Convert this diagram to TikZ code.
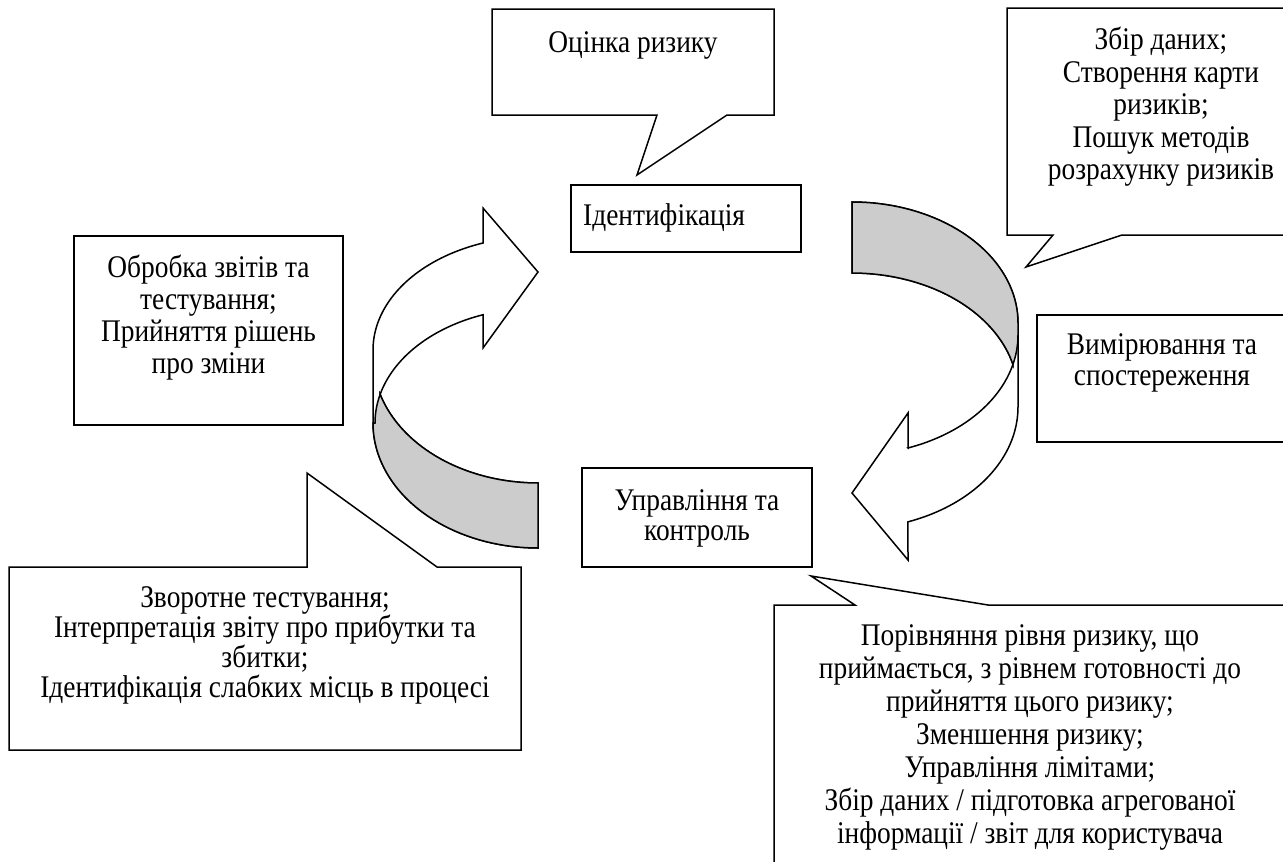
\documentclass[tikz,border=0pt]{standalone}
\usepackage{fontspec}
\setmainfont{Liberation Serif}[FakeStretch=0.87]
\begin{document}
\begin{tikzpicture}[x=1pt,y=-1pt,
  outline/.style={draw=black, line width=1.5pt, line join=miter, fill=white},
  greyband/.style={draw=black, line width=1.5pt, line join=miter, fill=black!20},
  txt/.style={font=\fontsize{31.5}{#1}\selectfont, align=center, inner sep=0pt, text=black},
  txt/.default=32]
\useasboundingbox (0,0) rectangle (1283,862);
\begin{scope}
\clip (0,0) rectangle (1283,862);

% ---------- left curved arrow (up to the right) ----------
\path[outline] (483,243)
  -- plot[domain=250.5:180,samples=40] ({538+165*cos(\x)},{350+113.5*sin(\x)})
  -- (373,423)
  -- plot[domain=180:90,samples=40] ({538+165*cos(\x)},{423+125*sin(\x)})
  -- (538,483)
  -- plot[domain=90:163.1,samples=40] ({538+165*cos(\x)},{358+125*sin(\x)})
  -- plot[domain=194.4:250.3,samples=40] ({538+163*cos(\x)},{423+115*sin(\x)})
  -- (483,348) -- (538,272) -- (483,208) -- cycle;
\path[greyband] (538,483) -- (538,548)
  -- plot[domain=90:180,samples=40] ({538+165*cos(\x)},{423+125*sin(\x)})
  -- plot[domain=180:194.4,samples=10] ({538+163*cos(\x)},{423+115*sin(\x)})
  -- plot[domain=163.1:90,samples=40] ({538+165*cos(\x)},{358+125*sin(\x)})
  -- cycle;

% ---------- right curved arrow (down to the left) ----------
\path[outline] (852,202)
  -- plot[domain=270:360,samples=40] ({852+166*cos(\x)},{323+121*sin(\x)})
  -- (1018,407)
  -- plot[domain=0:70.3,samples=40] ({852+166*cos(\x)},{407+122*sin(\x)})
  -- (908,560) -- (852,493) -- (908,413) -- (908,448)
  -- plot[domain=70.3:14.17,samples=40] ({852+166*cos(\x)},{335+120*sin(\x)})
  -- plot[domain=345.83:270,samples=40] ({852+166*cos(\x)},{394+121*sin(\x)})
  -- cycle;
\path[greyband] (852,202)
  -- plot[domain=270:360,samples=40] ({852+166*cos(\x)},{323+121*sin(\x)})
  -- plot[domain=0:14.17,samples=10] ({852+166*cos(\x)},{335+120*sin(\x)})
  -- plot[domain=345.83:270,samples=40] ({852+166*cos(\x)},{394+121*sin(\x)})
  -- cycle;

% ---------- callouts and boxes ----------
\path[outline] (492,9) -- (774,9) -- (774,115) -- (727,115) -- (637,175) -- (657,115) -- (492,115) -- cycle;
\path[outline] (571,185) rectangle (801,252);
\path[outline] (1007,8) -- (1320,8) -- (1320,235) -- (1122,235) -- (1026,267) -- (1053,235) -- (1007,235) -- cycle;
\path[outline] (1037,315) rectangle (1320,442);
\path[outline] (74,236) rectangle (343,425);
\path[outline] (582,468) rectangle (812,567);
\path[outline] (9,567) -- (307,567) -- (307,473) -- (437,567) -- (521,567) -- (521,750) -- (9,750) -- cycle;
\path[outline] (774,605) -- (855,605) -- (811,576) -- (988,605) -- (1320,605) -- (1320,900) -- (774,900) -- cycle;
\end{scope}

% ---------- texts ----------
\node[txt] (ocinka) at (633,45) {Оцінка ризику};
\node[txt, anchor=west] (ident) at (583,218) {Ідентифікація};
\node[txt=32.5] (zbir) at (1161,107) {Збір даних;\\Створення карти\\ризиків;\\Пошук методів\\розрахунку ризиків};
\node[txt=31] (vymir) at (1162,362.5) {Вимірювання та\\спостереження};
\node[txt=32] (obrobka) at (208.5,318) {Обробка звітів та\\тестування;\\Прийняття рішень\\про зміни};
\node[txt=30] (upravl) at (697,518) {Управління та\\контроль};
\node[txt=30] (zvorot) at (265,645) {Зворотне тестування;\\Інтерпретація звіту про прибутки та\\збитки;\\Ідентифікація слабких місць в процесі};
\node[txt=33] (porivn) at (1030,737) {Порівняння рівня ризику, що\\приймається, з рівнем готовності до\\прийняття цього ризику;\\Зменшення ризику;\\Управління лімітами;\\Збір даних / підготовка агрегованої\\інформації / звіт для користувача};
\end{tikzpicture}
\end{document}
